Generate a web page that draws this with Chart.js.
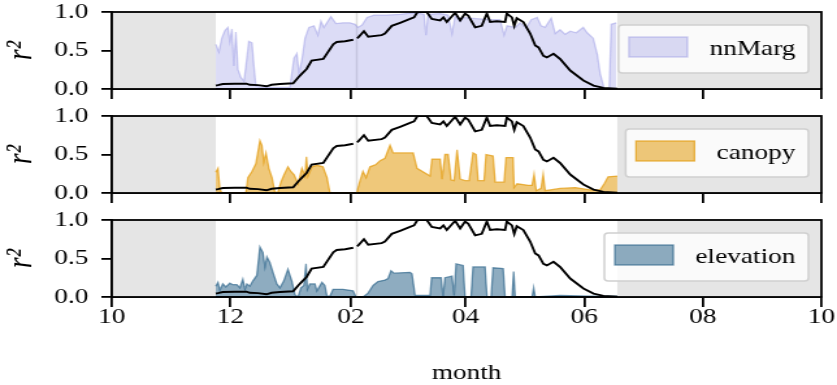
<!DOCTYPE html>
<html>
<head>
<meta charset="utf-8">
<script src="https://cdn.jsdelivr.net/npm/chart.js@4.4.1/dist/chart.umd.min.js"></script>
<style>
  html, body { margin: 0; padding: 0; background: #fff; }
  #wrap { position: relative; width: 837px; height: 385px; overflow: hidden; }
  /* the figure is drawn on a narrower canvas and stretched sideways, like the reference */
  #wrap canvas { position: absolute; left: 0; width: 837px; }
</style>
</head>
<body>
<div id="wrap">
  <canvas id="c1" width="644" height="104" style="top:0;height:104px"></canvas>
  <canvas id="c2" width="644" height="104" style="top:104px;height:104px"></canvas>
  <canvas id="c3" width="644" height="177" style="top:208px;height:177px"></canvas>
</div>
<script>
// x values are days since 1 October
const xTickDays = [0, 61, 123, 182, 243, 304, 365];
const xTickLabels = ['10', '12', '02', '04', '06', '08', '10'];
const yTickValues = [0, 0.5, 1];
const yTickLabels = ['0.0', '0.5', '1.0'];

// periods without data (grey) and the short gap in early February
const greySpans = [[0, 53.5], [260, 365]];
const gapSpans = [[125.5, 126.5]];

// black reference curve, same in every panel
const baseDays = [53.5, 54.6, 57.1, 63.3, 69.3, 71.0, 75.2, 79.6, 82.2, 86.5, 93.3, 95.9, 97.8, 100.2, 102.8,
  108.8, 113.9, 115.7, 120.0, 124.2, 125.0, 126.1, 126.8, 129.7, 131.9, 138.8, 140.5, 144.0, 148.3, 153.4,
  155.5, 157.2, 162.0, 164.6, 168.9, 170.6, 172.3, 176.6, 179.2, 181.7, 183.4, 186.9, 190.3, 192.9, 194.6,
  198.0, 202.3, 203.2, 205.8, 207.0, 208.3, 211.7, 215.2, 217.8, 219.5, 222.0, 223.8, 227.2, 230.6, 235.8,
  242.6, 247.8, 252.9, 260.0];
const baseR2 = [0.045, 0.05, 0.065, 0.068, 0.07, 0.055, 0.05, 0.035, 0.055, 0.065, 0.075, 0.15, 0.2, 0.26, 0.37,
  0.39, 0.58, 0.61, 0.62, 0.64, null, 0.66, 0.67, 0.75, 0.68, 0.70, 0.72, 0.82, 0.86, 0.91,
  0.93, 1.0, 1.0, 0.91, 0.89, 0.93, 0.87, 0.99, 0.89, 0.98, 0.95, 0.80, 0.82, 0.98, 0.87,
  0.88, 0.87, 0.98, 0.93, 0.82, 0.92, 0.87, 0.72, 0.565, 0.54, 0.43, 0.41, 0.457, 0.39, 0.24,
  0.11, 0.045, 0.015, 0.005];

const nnMargDays = [53.5, 55.1, 56.6, 58.2, 59.7, 60.7, 61.8, 62.8, 63.8, 64.9, 66.4, 68.0, 69.0, 70.5, 72.1,
  73.1, 74.1, 76.2, 91.6, 93.7, 95.2, 96.3, 97.8, 99.4, 101.4, 104.0, 106.0, 107.6, 109.1, 112.7,
  115.3, 118.9, 122.5, 125.1, 126.6, 128.7, 131.3, 134.9, 141.6, 148.3, 155.5, 158.6, 160.6, 161.6, 162.7,
  168.9, 173.0, 175.0, 176.6, 179.2, 180.7, 184.3, 189.4, 194.6, 199.7, 201.8, 203.3, 207.5, 210.0, 213.1,
  215.7, 218.8, 220.8, 222.9, 226.0, 228.1, 230.6, 233.2, 235.8, 238.9, 242.5, 244.5, 247.6, 249.7, 251.2,
  253.3, 255.9, 256.9, 259.5];
const nnMargR2 = [0.58, 0.48, 0.66, 0.76, 0.80, 0.62, 0.78, 0.30, 0.74, 0.25, 0.15, 0.10, 0.30, 0.62, 0.60,
  0.30, 0.04, 0.02, 0.02, 0.40, 0.46, 0.20, 0.38, 0.66, 0.80, 0.82, 0.70, 0.88, 0.80, 0.94,
  0.85, 0.86, 0.86, 0.84, 0.80, 0.83, 0.93, 0.96, 0.96, 0.97, 0.99, 0.98, 0.97, 0.70, 0.97,
  0.98, 0.96, 0.72, 0.95, 0.88, 0.93, 0.92, 0.91, 0.90, 0.90, 0.70, 0.82, 0.80, 0.86, 0.79,
  0.90, 0.93, 0.82, 0.80, 0.92, 0.72, 0.77, 0.71, 0.75, 0.73, 0.80, 0.73, 0.66, 0.45, 0.20,
  0.0, 0.0, 0.84, 0.86];

const canopyDays = [53.5, 54.6, 55.6, 56.6, 69.0, 70.0, 72.1, 74.1, 76.2, 77.2, 78.2, 79.3, 80.8, 82.4, 83.9,
  85.5, 87.0, 88.5, 90.6, 92.1, 93.7, 95.8, 97.8, 99.4, 100.1, 100.9, 103.0, 105.5, 108.6, 110.7,
  112.2, 126.1, 126.6, 127.7, 129.2, 130.8, 132.8, 135.9, 138.0, 140.5, 143.1, 144.7, 155.0, 157.0, 163.7,
  164.7, 168.9, 169.9, 171.4, 173.0, 174.5, 176.1, 177.6, 179.2, 181.7, 183.8, 185.8, 187.4, 188.4, 191.5,
  192.5, 196.1, 197.2, 201.8, 202.8, 206.4, 206.9, 208.5, 214.2, 216.2, 217.2, 218.3, 220.8, 221.9, 222.9,
  230.6, 238.4, 246.1, 251.2, 253.3, 255.3, 260.0];
const canopyR2 = [0.27, 0.32, 0.05, 0.0, 0.0, 0.20, 0.28, 0.38, 0.68, 0.62, 0.40, 0.52, 0.32, 0.20, 0.01,
  0.01, 0.14, 0.23, 0.34, 0.28, 0.24, 0.12, 0.32, 0.22, 0.47, 0.22, 0.34, 0.36, 0.34, 0.20,
  0.0, 0.0, 0.06, 0.16, 0.28, 0.20, 0.34, 0.37, 0.42, 0.45, 0.62, 0.52, 0.52, 0.32, 0.22,
  0.44, 0.44, 0.18, 0.50, 0.50, 0.17, 0.16, 0.56, 0.18, 0.16, 0.16, 0.52, 0.50, 0.16, 0.16,
  0.50, 0.48, 0.14, 0.14, 0.46, 0.46, 0.07, 0.12, 0.10, 0.10, 0.24, 0.03, 0.06, 0.24, 0.03,
  0.06, 0.07, 0.04, 0.04, 0.12, 0.21, 0.22];

const elevationDays = [53.5, 54.6, 55.6, 57.1, 58.7, 60.7, 62.3, 64.3, 65.9, 67.4, 68.5, 69.5, 71.0, 72.6, 74.6,
  76.2, 77.7, 78.8, 79.8, 81.3, 82.9, 84.9, 86.5, 88.5, 90.6, 92.7, 94.2, 95.8, 97.3, 98.8,
  99.9, 100.6, 101.9, 104.5, 105.5, 108.1, 109.6, 110.7, 112.2, 113.8, 118.9, 124.1, 125.6, 129.2, 131.8,
  134.4, 136.9, 140.5, 142.1, 143.6, 145.2, 153.4, 154.4, 156.0, 163.7, 164.5, 169.4, 170.4, 171.4, 175.0,
  176.1, 177.1, 180.7, 181.7, 184.8, 185.8, 192.0, 193.0, 195.1, 196.1, 201.3, 202.3, 205.9, 206.7, 207.5,
  216.2, 217.0, 217.8, 230.6, 246.1, 260.0];
const elevationR2 = [0.14, 0.19, 0.09, 0.17, 0.13, 0.18, 0.16, 0.16, 0.12, 0.23, 0.10, 0.17, 0.14, 0.21, 0.28,
  0.65, 0.58, 0.39, 0.52, 0.45, 0.32, 0.17, 0.12, 0.21, 0.36, 0.20, 0.03, 0.0, 0.12, 0.15,
  0.43, 0.10, 0.17, 0.17, 0.08, 0.19, 0.15, 0.01, 0.01, 0.10, 0.10, 0.08, 0.0, 0.0, 0.05,
  0.15, 0.20, 0.22, 0.24, 0.34, 0.31, 0.32, 0.30, 0.02, 0.02, 0.25, 0.25, 0.0, 0.25, 0.27,
  0.02, 0.43, 0.41, 0.0, 0.0, 0.39, 0.39, 0.0, 0.0, 0.38, 0.37, 0.0, 0.0, 0.33, 0.0,
  0.0, 0.12, 0.0, 0.02, 0.01, 0.01];

const SERIF = "'Liberation Serif', 'Times New Roman', serif";
Chart.defaults.font.family = SERIF;
Chart.defaults.color = '#000';

function pairs(xs, ys) {
  return xs.map((x, i) => ({ x: x, y: ys[i] }));
}

// grey spans, frame on all four sides and the matplotlib-like legend box
const panelDecor = {
  id: 'panelDecor',
  beforeDatasetsDraw(chart) {
    const { ctx, chartArea: a, scales: { x } } = chart;
    ctx.save();
    const paint = (spans, colour) => {
      ctx.fillStyle = colour;
      spans.forEach(([d0, d1]) => {
        const p0 = Math.max(x.getPixelForValue(d0), a.left);
        const p1 = Math.min(x.getPixelForValue(d1), a.right);
        ctx.fillRect(p0, a.top, p1 - p0, a.bottom - a.top);
      });
    };
    paint(greySpans, '#e5e5e5');
    paint(gapSpans, '#dddddd');
    ctx.restore();
  },
  afterDatasetsDraw(chart) {
    const { ctx, chartArea: a } = chart;
    const ds = chart.data.datasets[1];
    ctx.save();
    ctx.font = '21px ' + SERIF;
    const tw = ctx.measureText(ds.label).width;
    const w = 8 + 45 + 17 + tw + 10;
    const h = 48;
    const right = a.right - 10;
    const left = right - w;
    const top = a.top + 13;
    ctx.beginPath();
    if (ctx.roundRect) ctx.roundRect(left, top, w, h, 3);
    else ctx.rect(left, top, w, h);
    ctx.fillStyle = 'rgba(255,255,255,0.8)';
    ctx.fill();
    ctx.lineWidth = 1.5;
    ctx.strokeStyle = '#d0d0d0';
    ctx.stroke();
    // patch
    ctx.fillStyle = ds.backgroundColor;
    ctx.fillRect(left + 8, top + 12, 45, 20);
    ctx.strokeStyle = ds.borderColor;
    ctx.lineWidth = 1.3;
    ctx.strokeRect(left + 8, top + 12, 45, 20);
    // label
    ctx.fillStyle = '#000';
    ctx.textBaseline = 'middle';
    ctx.textAlign = 'left';
    ctx.fillText(ds.label, left + 70, top + 24);
    ctx.restore();
  },
  afterDraw(chart) {
    const { ctx, chartArea: a } = chart;
    ctx.save();
    ctx.strokeStyle = '#000';
    ctx.lineWidth = 1.8;
    ctx.strokeRect(a.left, a.top, a.right - a.left, a.bottom - a.top);
    ctx.restore();
  }
};

function makePanel(canvasId, label, days, values, fill, edge, isBottom) {
  const canvas = document.getElementById(canvasId);
  const h = canvas.height;
  return new Chart(canvas.getContext('2d'), {
    type: 'line',
    data: {
      datasets: [
        {
          label: 'reference',
          data: pairs(baseDays, baseR2),
          borderColor: '#000',
          borderWidth: 1.9,
          pointRadius: 0,
          fill: false,
          tension: 0,
          spanGaps: false
        },
        {
          label: label,
          data: pairs(days, values),
          borderColor: edge,
          backgroundColor: fill,
          borderWidth: 1.3,
          pointRadius: 0,
          fill: 'origin',
          tension: 0
        }
      ]
    },
    options: {
      responsive: false,
      animation: false,
      devicePixelRatio: 1,
      layout: { padding: { left: 0, right: 12, top: 12, bottom: 0 } },
      plugins: {
        legend: { display: false },
        tooltip: { enabled: false }
      },
      scales: {
        x: {
          type: 'linear',
          min: 0,
          max: 365,
          afterBuildTicks: s => { s.ticks = xTickDays.map(v => ({ value: v })); },
          afterFit: s => { s.height = h - 89; s.paddingLeft = 0; s.paddingRight = 0; },
          grid: { drawOnChartArea: false, drawTicks: true, tickLength: 10, color: '#000', lineWidth: 1.8 },
          border: { display: true, color: '#000', width: 1.8 },
          ticks: {
            autoSkip: false,
            maxRotation: 0,
            padding: -2,
            font: { size: 21 },
            callback: (v, i) => isBottom ? xTickLabels[i] : ''
          },
          title: {
            display: isBottom,
            text: 'month',
            font: { size: 21 },
            padding: { top: 0, bottom: -1 }
          }
        },
        y: {
          min: 0,
          max: 1,
          afterBuildTicks: s => { s.ticks = yTickValues.map(v => ({ value: v })); },
          afterFit: s => { s.width = 86; s.paddingTop = 0; s.paddingBottom = 0; },
          grid: { drawOnChartArea: false, drawTicks: true, tickLength: 8, color: '#000', lineWidth: 1.8 },
          border: { display: true, color: '#000', width: 1.8 },
          ticks: {
            padding: 10,
            font: { size: 21 },
            callback: (v, i) => yTickLabels[i]
          },
          title: {
            display: true,
            text: 'r²',
            font: { size: 28, style: 'italic' },
            padding: { top: 0, bottom: 0 }
          }
        }
      }
    },
    plugins: [panelDecor]
  });
}

makePanel('c1', 'nnMarg', nnMargDays, nnMargR2, 'rgba(138,138,225,0.3)', 'rgba(138,138,225,0.42)', false);
makePanel('c2', 'canopy', canopyDays, canopyR2, 'rgba(225,150,0,0.52)', 'rgba(225,150,0,0.68)', false);
makePanel('c3', 'elevation', elevationDays, elevationR2, 'rgba(30,90,130,0.5)', 'rgba(30,90,130,0.62)', true);
</script>
</body>
</html>
